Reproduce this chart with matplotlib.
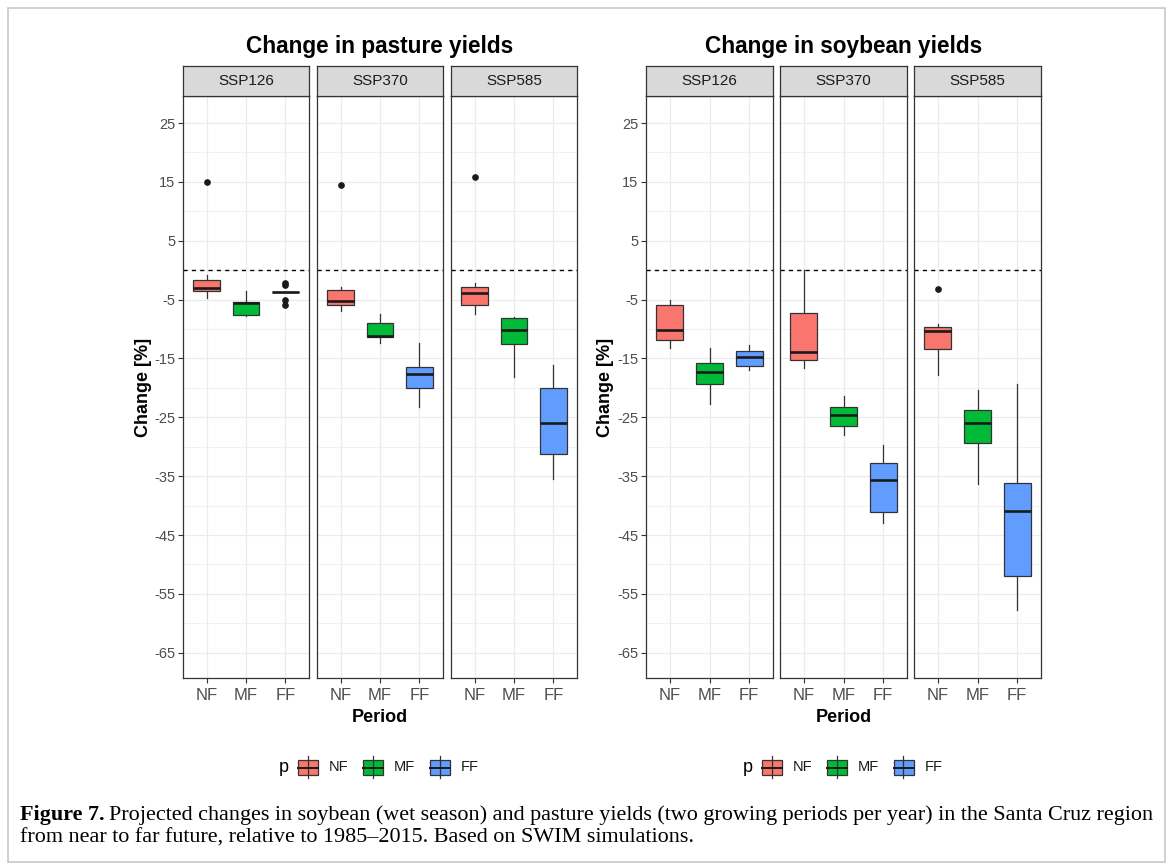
import matplotlib
matplotlib.use("Agg")
import matplotlib.pyplot as plt
from matplotlib.patches import Rectangle
from matplotlib.lines import Line2D
import numpy as np

plt.rcParams['font.family'] = ['Liberation Sans', 'DejaVu Sans']

# ---- data, order: SSP126, SSP370, SSP585 x NF, MF, FF ----
scenarios = ["SSP126", "SSP370", "SSP585"]
periods = ["NF", "MF", "FF"]
colors = ["#F8766D", "#00BA38", "#619CFF"]

pasture_lo = [[-4.8, -7.7, -3.7], [-6.9, -12.4, -23.2], [-7.4, -18.2, -35.4]]
pasture_q1 = [[-3.6, -7.6, -3.7], [-6.0, -11.4, -20.1], [-5.9, -12.6, -31.3]]
pasture_med = [[-3.1, -5.5, -3.7], [-5.3, -11.2, -17.6], [-3.8, -10.2, -26.0]]
pasture_q3 = [[-1.7, -5.4, -3.7], [-3.3, -8.9, -16.4], [-2.9, -8.2, -20.1]]
pasture_hi = [[-0.9, -3.6, -3.7], [-2.9, -7.5, -12.3], [-2.1, -7.9, -16.1]]
pasture_out = [[[15.0], [], [-2.1, -2.6, -5.0, -6.0]],
               [[14.4], [], []],
               [[15.9], [], []]]

soy_lo = [[-13.2, -22.8, -17.0], [-16.6, -28.0, -43.0], [-17.8, -36.4, -57.7]]
soy_q1 = [[-11.9, -19.4, -16.2], [-15.2, -26.5, -41.1], [-13.4, -29.3, -51.9]]
soy_med = [[-10.1, -17.3, -14.8], [-13.9, -24.6, -35.6], [-10.4, -26.0, -41.0]]
soy_q3 = [[-5.9, -15.7, -13.7], [-7.3, -23.3, -32.7], [-9.7, -23.8, -36.1]]
soy_hi = [[-5.1, -13.3, -12.7], [0.1, -21.4, -29.7], [-9.2, -20.3, -19.3]]
soy_out = [[[], [], []],
           [[], [], []],
           [[-3.2], [], []]]

yticks = [25, 15, 5, -5, -15, -25, -35, -45, -55, -65]

W, H = 1171, 868
fig = plt.figure(figsize=(W / 100, H / 100), dpi=100)


def px_axes(x0, y0, x1, y1):
    return fig.add_axes([x0 / W, 1 - y1 / H, (x1 - x0) / W, (y1 - y0) / H])


def draw_group(xspans, title, lo, q1, med, q3, hi, out):
    for k, (x0, x1) in enumerate(xspans):
        ax = px_axes(x0, 96, x1, 678)
        stats = []
        for j in range(3):
            stats.append(dict(whislo=lo[k][j], q1=q1[k][j], med=med[k][j],
                              q3=q3[k][j], whishi=hi[k][j], fliers=out[k][j]))
        ax.axhline(0, color="black", lw=1.0, ls=(0, (3, 3)), zorder=1)
        bp = ax.bxp(stats, positions=[1, 2, 3], widths=0.68, patch_artist=True,
                    showcaps=False, manage_ticks=False,
                    boxprops=dict(edgecolor="#333333", lw=0.9),
                    medianprops=dict(color="#1a1a1a", lw=1.9),
                    whiskerprops=dict(color="#333333", lw=0.9),
                    flierprops=dict(marker="o", markerfacecolor="#1a1a1a",
                                    markeredgecolor="#1a1a1a", markersize=3.8))
        for patch, c in zip(bp["boxes"], colors):
            patch.set_facecolor(c)
            patch.set_zorder(3)
        for m in bp["medians"]:
            m.set_zorder(4)

        ax.set_xlim(0.4, 3.6)
        ax.set_ylim(-69.3, 29.6)
        ax.set_xticks([1, 2, 3])
        ax.set_xticklabels(periods, fontsize=12, color="#4D4D4D")
        ax.set_yticks(yticks)
        ax.set_yticks(np.arange(-60, 25, 10), minor=True)
        ax.grid(True, which="major", color="#EBEBEB", lw=0.9, zorder=0)
        ax.grid(True, which="minor", axis="y", color="#EBEBEB", lw=0.5, zorder=0)
        ax.set_axisbelow(True)
        ax.tick_params(axis="x", length=3.5, color="#333333", pad=4)
        ax.tick_params(axis="y", which="minor", length=0)
        if k == 0:
            ax.set_yticklabels([str(v) for v in yticks], fontsize=10.5, color="#4D4D4D")
            ax.tick_params(axis="y", length=3.5, color="#333333", pad=2)
        else:
            ax.tick_params(axis="y", length=0, labelleft=False)
        for sp in ax.spines.values():
            sp.set_color("#333333")
            sp.set_linewidth(0.9)

        # facet strip
        st = px_axes(x0, 66, x1, 96)
        st.set_facecolor("#D9D9D9")
        st.set_xticks([])
        st.set_yticks([])
        for sp in st.spines.values():
            sp.set_color("#333333")
            sp.set_linewidth(0.9)
        st.text(0.5, 0.5, scenarios[k], ha="center", va="center",
                fontsize=11, color="#1A1A1A", transform=st.transAxes)

    xa, xb = xspans[0][0], xspans[-1][1]
    xc = (xa + xb) / 2
    fig.text(xc / W, 1 - 46 / H, title, ha="center", va="center",
             fontsize=16.3, fontweight="bold")
    fig.text(xc / W, 1 - 718 / H, "Period", ha="center", va="center",
             fontsize=13, fontweight="bold")
    fig.text((xa - 40) / W, 1 - 387 / H, "Change [%]", ha="center", va="center",
             rotation=90, fontsize=13, fontweight="bold")

    # legend
    lx = xc - 101
    fig.text(lx / W, 1 - 767 / H, "p", ha="left", va="center", fontsize=13)
    keys_x = [lx + 19, lx + 84, lx + 151]
    for kx, c, lab in zip(keys_x, colors, periods):
        fig.add_artist(Line2D([(kx + 10) / W] * 2, [1 - 756 / H, 1 - 778 / H],
                              color="#333333", lw=0.9))
        fig.add_artist(Rectangle((kx / W, 1 - 775 / H), 20 / W, 15 / H,
                                 facecolor=c, edgecolor="#333333", lw=0.9))
        fig.add_artist(Line2D([kx / W, (kx + 20) / W], [1 - 767.5 / H] * 2,
                              color="#1a1a1a", lw=1.4))
        fig.text((kx + 31) / W, 1 - 767 / H, lab, ha="left", va="center",
                 fontsize=10.5, color="#1A1A1A")


draw_group([(183, 309), (317, 443), (451, 577)], "Change in pasture yields",
           pasture_lo, pasture_q1, pasture_med, pasture_q3, pasture_hi, pasture_out)
draw_group([(646, 773), (780, 907), (914, 1041)], "Change in soybean yields",
           soy_lo, soy_q1, soy_med, soy_q3, soy_hi, soy_out)

# outer frame
fig.add_artist(Rectangle((8 / W, 6 / H), (1165 - 8) / W, (862 - 8) / H,
                         fill=False, edgecolor="#C8C8C8", lw=1.2))

# caption
serif = ["Liberation Serif", "DejaVu Serif"]
cap_fs = 15.9
t1 = fig.text(20 / W, 1 - 815 / H, "Figure 7.", family=serif, fontweight="bold",
              fontsize=cap_fs, va="center", ha="left")
fig.canvas.draw()
bb = t1.get_window_extent()
fig.text((bb.x1 + 4) / W, 1 - 815 / H,
         "Projected changes in soybean (wet season) and pasture yields (two growing "
         "periods per year) in the Santa Cruz region",
         family=serif, fontsize=cap_fs, va="center", ha="left")
fig.text(20 / W, 1 - 838 / H,
         "from near to far future, relative to 1985\u20132015. Based on SWIM simulations.",
         family=serif, fontsize=cap_fs, va="center", ha="left")

fig.savefig("out.png", dpi=100)
